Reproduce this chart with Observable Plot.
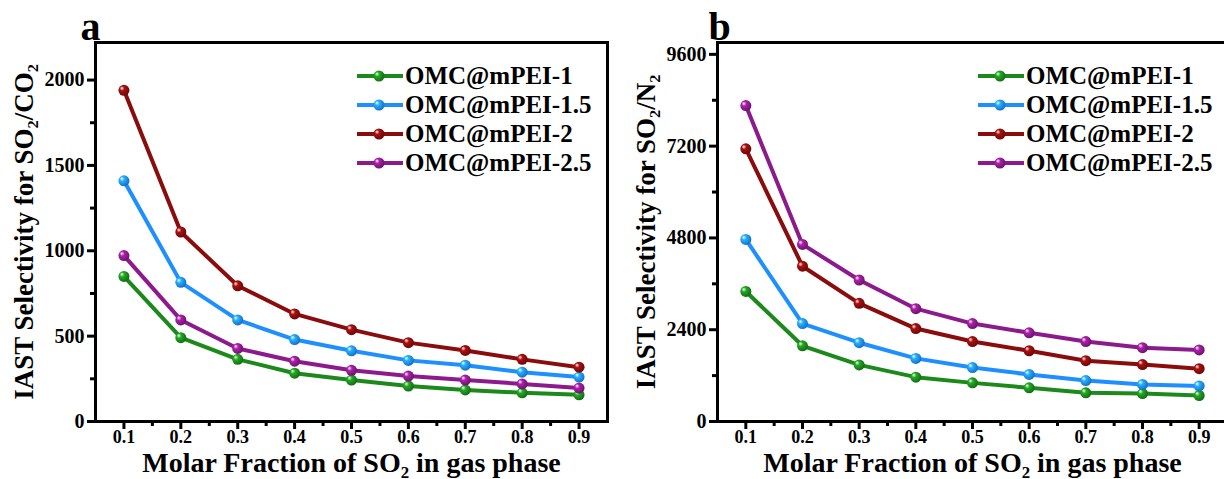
<!DOCTYPE html>
<html><head><meta charset="utf-8">
<script src="https://cdn.jsdelivr.net/npm/d3@7"></script>
<script src="https://cdn.jsdelivr.net/npm/@observablehq/plot@0.6"></script>
<style>
html,body{margin:0;padding:0;background:#fff;}
#wrap{position:relative;width:1224px;height:479px;overflow:hidden;background:#fff;}
.panel{position:absolute;top:0;}
.legend{position:absolute;font-family:"Liberation Serif","Times New Roman",serif;font-weight:bold;font-size:25px;color:#000;line-height:1;}
.legend .row{display:flex;align-items:center;height:29px;}
.legend svg{margin-right:2px;}
</style></head><body>
<svg id="defs" width="0" height="0" style="position:absolute"></svg>
<div id="wrap"></div>
<script>
// ---------- data ----------
const xValues = [0.1, 0.2, 0.3, 0.4, 0.5, 0.6, 0.7, 0.8, 0.9];
const seriesNames = ["OMC@mPEI-1", "OMC@mPEI-1.5", "OMC@mPEI-2", "OMC@mPEI-2.5"];
const seriesColors = ["#1b8a1b", "#1e8fff", "#8b0c0c", "#8c1a8c"];

// panel a: IAST selectivity SO2/CO2
const aPEI1   = [850, 491, 364, 283, 243, 208, 185, 168, 156];
const aPEI15  = [1410, 815, 595, 480, 414, 358, 330, 289, 260];
const aPEI2   = [1940, 1110, 795, 630, 538, 462, 416, 364, 318];
const aPEI25  = [972, 595, 428, 353, 300, 266, 243, 220, 196];

// panel b: IAST selectivity SO2/N2
const bPEI1   = [3400, 1980, 1480, 1160, 1010, 880, 750, 730, 680];
const bPEI15  = [4760, 2560, 2060, 1650, 1410, 1230, 1070, 970, 930];
const bPEI2   = [7130, 4060, 3090, 2430, 2090, 1850, 1590, 1490, 1380];
const bPEI25  = [8260, 4630, 3700, 2950, 2560, 2320, 2090, 1930, 1870];

const xTicks = [0.1, 0.2, 0.3, 0.4, 0.5, 0.6, 0.7, 0.8, 0.9];
const xMinor = [0.15, 0.25, 0.35, 0.45, 0.55, 0.65, 0.75, 0.85];
const aYTicks = [0, 500, 1000, 1500, 2000];
const aYMinor = [250, 750, 1250, 1750];
const bYTicks = [0, 2400, 4800, 7200, 9600];
const bYMinor = [1200, 3600, 6000, 8400];

const xTitle = "Molar Fraction of SO\u2082 in gas phase";
const aYTitle = "IAST Selectivity for SO\u2082/CO\u2082";
const bYTitle = "IAST Selectivity for SO\u2082/N\u2082";

// ---------- gradients for sphere markers ----------
const defs = d3.select("#defs").append("defs");
seriesColors.forEach((c, i) => {
  const g = defs.append("radialGradient").attr("id", "ball" + i)
    .attr("cx", "0.4").attr("cy", "0.4").attr("r", "0.6").attr("fx", "0.3").attr("fy", "0.3");
  g.append("stop").attr("offset", "0").attr("stop-color", "#ffffff").attr("stop-opacity", 0.95);
  g.append("stop").attr("offset", "0.35").attr("stop-color", d3.color(c).brighter(0.6).formatHex());
  g.append("stop").attr("offset", "1").attr("stop-color", d3.color(c).darker(0.7).formatHex());
});

const FONT = "Liberation Serif, Times New Roman, serif";

function makePanel({series, yDomain, yTicks, yMinor, yTitle, letter, width, ml, left, legendLeft}) {
  const rows = [];
  series.forEach((vals, i) => vals.forEach((v, j) => rows.push({x: xValues[j], y: v, s: seriesNames[i]})));
  const plot = Plot.plot({
    width, height: 479,
    marginLeft: ml, marginRight: 5, marginTop: 42, marginBottom: 58,
    style: {fontFamily: FONT, fontWeight: "bold", background: "transparent", color: "#000"},
    x: {domain: [0.05, 0.95]},
    y: {domain: yDomain},
    color: {domain: seriesNames, range: seriesColors},
    marks: [
      Plot.axisX({ticks: xMinor, tickSize: 5, strokeWidth: 3, tickFormat: () => "", label: null}),
      Plot.axisX({ticks: xTicks, tickSize: 8, strokeWidth: 3, tickPadding: 1, tickFormat: d => d.toFixed(1), fontSize: 18, fontFamily: FONT, label: null}),
      Plot.axisY({ticks: yMinor, tickSize: 5, strokeWidth: 3, tickFormat: () => "", label: null}),
      Plot.axisY({ticks: yTicks, tickSize: 8, strokeWidth: 3, tickPadding: 3, tickFormat: d => String(d), fontSize: 20, fontFamily: FONT, label: null}),
      Plot.line(rows, {x: "x", y: "y", z: "s", stroke: "s", strokeWidth: 4}),
      ...seriesNames.map((s, i) => Plot.dot(rows.filter(d => d.s === s), {x: "x", y: "y", r: 5.5, fill: `url(#ball${i})`, stroke: "none"})),
      Plot.frame({strokeWidth: 3}),
      Plot.text([yTitle], {text: d => d, frameAnchor: "left", textAnchor: "middle", lineAnchor: "middle", dx: -71, rotate: -90, fontSize: 27, fontWeight: "bold", fontFamily: FONT}),
      Plot.text([xTitle], {text: d => d, frameAnchor: "bottom", textAnchor: "middle", dy: 50, fontSize: 28, fontWeight: "bold", fontFamily: FONT}),
      Plot.text([letter], {text: d => d, frameAnchor: "top-left", textAnchor: "start", lineAnchor: "bottom", dx: letter === "a" ? -15 : -9, dy: -3, fontSize: 40, fontWeight: "bold", fontFamily: FONT})
    ]
  });
  plot.classList.add("panel");
  plot.style.left = left + "px";
  document.getElementById("wrap").appendChild(plot);

  const leg = document.createElement("div");
  leg.className = "legend";
  leg.style.left = legendLeft + "px";
  leg.style.top = "61px";
  seriesNames.forEach((s, i) => {
    const row = document.createElement("div");
    row.className = "row";
    row.innerHTML = `<svg width="46" height="20"><line x1="0" y1="10" x2="46" y2="10" stroke="${seriesColors[i]}" stroke-width="4"/><circle cx="22" cy="10" r="5.5" fill="url(#ball${i})"/></svg><span>${s}</span>`;
    leg.appendChild(row);
  });
  document.getElementById("wrap").appendChild(leg);
}

makePanel({series: [aPEI1, aPEI15, aPEI2, aPEI25], yDomain: [0, 2220], yTicks: aYTicks, yMinor: aYMinor,
  yTitle: aYTitle, letter: "a", width: 612, ml: 95, left: 0, legendLeft: 357});
makePanel({series: [bPEI1, bPEI15, bPEI2, bPEI25], yDomain: [0, 9910], yTicks: bYTicks, yMinor: bYMinor,
  yTitle: bYTitle, letter: "b", width: 620, ml: 105, left: 612, legendLeft: 978});
</script>
</body></html>
